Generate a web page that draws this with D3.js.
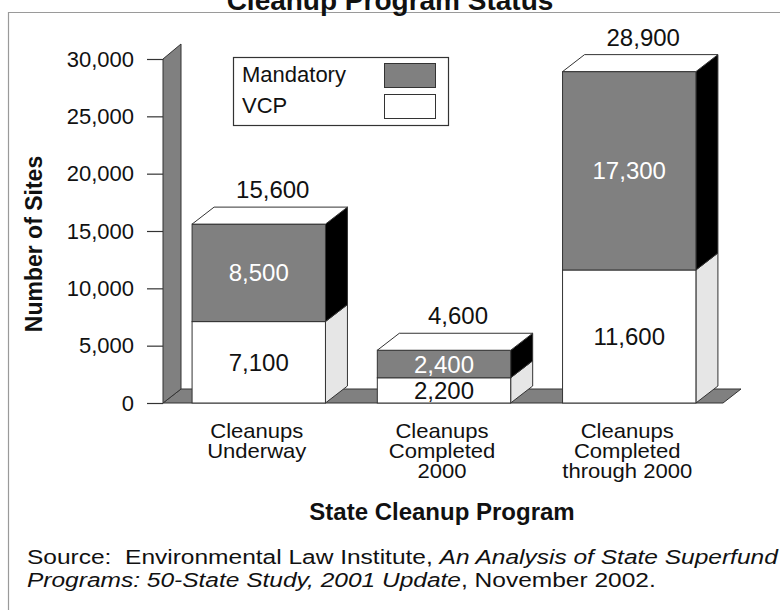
<!DOCTYPE html>
<html>
<head>
<meta charset="utf-8">
<script src="https://d3js.org/d3.v7.min.js"></script>
<style>
  html, body { margin: 0; padding: 0; background: #fff; }
  svg { display: block; font-family: Arial, "Liberation Sans", sans-serif; }
</style>
</head>
<body>
<svg id="chart" width="780" height="610"></svg>
<script>
(() => {
    // chart data
    const categories = ["Cleanups Underway", "Cleanups Completed 2000", "Cleanups Completed through 2000"];
    const categoryLines = [["Cleanups", "Underway"], ["Cleanups", "Completed", "2000"], ["Cleanups", "Completed", "through 2000"]];
    const seriesNames = ["Mandatory", "VCP"];
    const vcpValues = [7100, 2200, 11600];
    const mandatoryValues = [8500, 2400, 17300];
    const totalValues = [15600, 4600, 28900];
    const yTickValues = [0, 5000, 10000, 15000, 20000, 25000, 30000];

    const svg = d3.select("#chart");
    const ink = "#111";
    const edge = "#333";
    const gray = "#808080";

    const x = d3.scaleBand().domain(categories).range([163, 725]).paddingInner(0.28).paddingOuter(0.157);
    const y = d3.scaleLinear().domain([0, 30000]).range([403, 59]);

    // depth of the 3d pieces
    const wallDx = 18, wallDy = -15;
    const barDx = 22, barDy = -17;

    // outer frame and title
    svg.append("path")
        .attr("d", "M8.5,612 L8.5,12.5 L782,12.5")
        .attr("fill", "none").attr("stroke", "#9a9a9a").attr("stroke-width", 1.2);

    svg.append("text")
        .attr("x", 390).attr("y", 10)
        .attr("text-anchor", "middle")
        .attr("font-size", 28).attr("font-weight", "bold").attr("fill", ink)
        .text("Cleanup Program Status");

    // floor and back wall
    const x0 = x.range()[0], x1 = x.range()[1];
    svg.append("polygon")
        .attr("points", [[x0, y(0)], [x1 - 2, y(0)], [x1 - 2 + wallDx, y(0) + wallDy + 1], [x0 + wallDx, y(0) + wallDy + 1]].join(" "))
        .attr("fill", gray).attr("stroke", edge).attr("stroke-width", 1);

    svg.append("polygon")
        .attr("points", [[x0, y(0)], [x0, y(30000)], [x0 + wallDx, y(30000) + wallDy], [x0 + wallDx, y(0) + wallDy + 1]].join(" "))
        .attr("fill", gray).attr("stroke", edge).attr("stroke-width", 1);

    // y axis
    const yAxis = svg.append("g")
        .attr("transform", `translate(${x0},0)`)
        .call(d3.axisLeft(y).tickValues(yTickValues).tickSize(16).tickPadding(13).tickFormat(d3.format(",")));
    yAxis.select(".domain").remove();
    yAxis.selectAll(".tick line").attr("stroke", edge).attr("stroke-width", 1.2);
    yAxis.selectAll(".tick text")
        .attr("font-size", 22).attr("fill", ink)
        .attr("font-family", "Arial, 'Liberation Sans', sans-serif");

    svg.append("text")
        .attr("transform", "translate(42,244) rotate(-90)")
        .attr("text-anchor", "middle")
        .attr("font-size", 23).attr("font-weight", "bold").attr("fill", ink)
        .text("Number of Sites");

    // stacked 3d bars
    const segments = [];
    categories.forEach((c, i) => {
        segments.push({ cat: c, key: "VCP", y0: 0, y1: vcpValues[i], value: vcpValues[i], front: "#ffffff", side: "#e6e6e6", label: ink });
        segments.push({ cat: c, key: "Mandatory", y0: vcpValues[i], y1: vcpValues[i] + mandatoryValues[i], value: mandatoryValues[i], front: gray, side: "#000000", label: "#ffffff" });
    });

    const bw = x.bandwidth();
    const barG = svg.append("g");

    barG.selectAll(".side").data(segments).join("polygon")
        .attr("class", "side")
        .attr("points", d => {
            const xr = x(d.cat) + bw;
            return [[xr, y(d.y1)], [xr + barDx, y(d.y1) + barDy], [xr + barDx, y(d.y0) + barDy], [xr, y(d.y0)]].join(" ");
        })
        .attr("fill", d => d.side).attr("stroke", edge).attr("stroke-width", 1);

    barG.selectAll(".front").data(segments).join("rect")
        .attr("class", "front")
        .attr("x", d => x(d.cat))
        .attr("y", d => y(d.y1))
        .attr("width", bw)
        .attr("height", d => y(d.y0) - y(d.y1))
        .attr("fill", d => d.front).attr("stroke", edge).attr("stroke-width", 1);

    barG.selectAll(".top").data(categories).join("polygon")
        .attr("class", "top")
        .attr("points", (c, i) => {
            const xl = x(c), yt = y(totalValues[i]);
            return [[xl, yt], [xl + barDx, yt + barDy], [xl + bw + barDx, yt + barDy], [xl + bw, yt]].join(" ");
        })
        .attr("fill", "#fff").attr("stroke", edge).attr("stroke-width", 1);

    // values inside the segments
    barG.selectAll(".seg-label").data(segments).join("text")
        .attr("class", "seg-label")
        .attr("x", d => x(d.cat) + bw / 2)
        .attr("y", d => (y(d.y0) + y(d.y1)) / 2)
        .attr("dy", "0.36em")
        .attr("text-anchor", "middle")
        .attr("font-size", 24).attr("fill", d => d.label)
        .text(d => d3.format(",")(d.value));

    // totals above the bars
    barG.selectAll(".total").data(categories).join("text")
        .attr("class", "total")
        .attr("x", c => x(c) + bw / 2 + 14)
        .attr("y", (c, i) => y(totalValues[i]) + barDy - 9)
        .attr("text-anchor", "middle")
        .attr("font-size", 24).attr("fill", ink)
        .text((c, i) => d3.format(",")(totalValues[i]));

    // category labels (slightly wide, like the original)
    const catG = svg.append("g");
    categories.forEach((c, i) => {
        const cx = x(c) + bw / 2 - 2;
        const t = catG.append("text")
            .attr("transform", `translate(${cx},438) scale(1.05,1)`)
            .attr("text-anchor", "middle")
            .attr("font-size", 21).attr("fill", ink);
        categoryLines[i].forEach((line, j) => {
            t.append("tspan").attr("x", 0).attr("dy", j === 0 ? 0 : 20).text(line);
        });
    });

    svg.append("text")
        .attr("x", 442).attr("y", 520)
        .attr("text-anchor", "middle")
        .attr("font-size", 24).attr("font-weight", "bold").attr("fill", ink)
        .text("State Cleanup Program");

    // legend
    const legend = svg.append("g");
    legend.append("rect")
        .attr("x", 233.5).attr("y", 57.5).attr("width", 215).attr("height", 68)
        .attr("fill", "#fff").attr("stroke", edge).attr("stroke-width", 1.2);
    const legendFill = { "Mandatory": gray, "VCP": "#fff" };
    seriesNames.forEach((name, i) => {
        legend.append("text")
            .attr("x", 242).attr("y", 82 + i * 31)
            .attr("font-size", 22).attr("fill", ink)
            .text(name);
        legend.append("rect")
            .attr("x", 384.5).attr("y", 63.5 + i * 31).attr("width", 51).attr("height", 24)
            .attr("fill", legendFill[name]).attr("stroke", edge).attr("stroke-width", 1);
    });

    // source note, horizontally stretched like the original
    const src = svg.append("text")
        .attr("transform", "translate(27,564) scale(1.167,1)")
        .style("white-space", "pre")
        .attr("font-size", 21).attr("fill", ink);
    src.append("tspan").text("Source:  Environmental Law Institute, ");
    src.append("tspan").attr("font-style", "italic").text("An Analysis of State Superfund");
    const src2 = svg.append("text")
        .attr("transform", "translate(27,587) scale(1.167,1)")
        .attr("font-size", 21).attr("fill", ink);
    src2.append("tspan").attr("font-style", "italic").text("Programs: 50-State Study, 2001 Update");
    src2.append("tspan").text(", November 2002.");
})();
</script>
</body>
</html>
